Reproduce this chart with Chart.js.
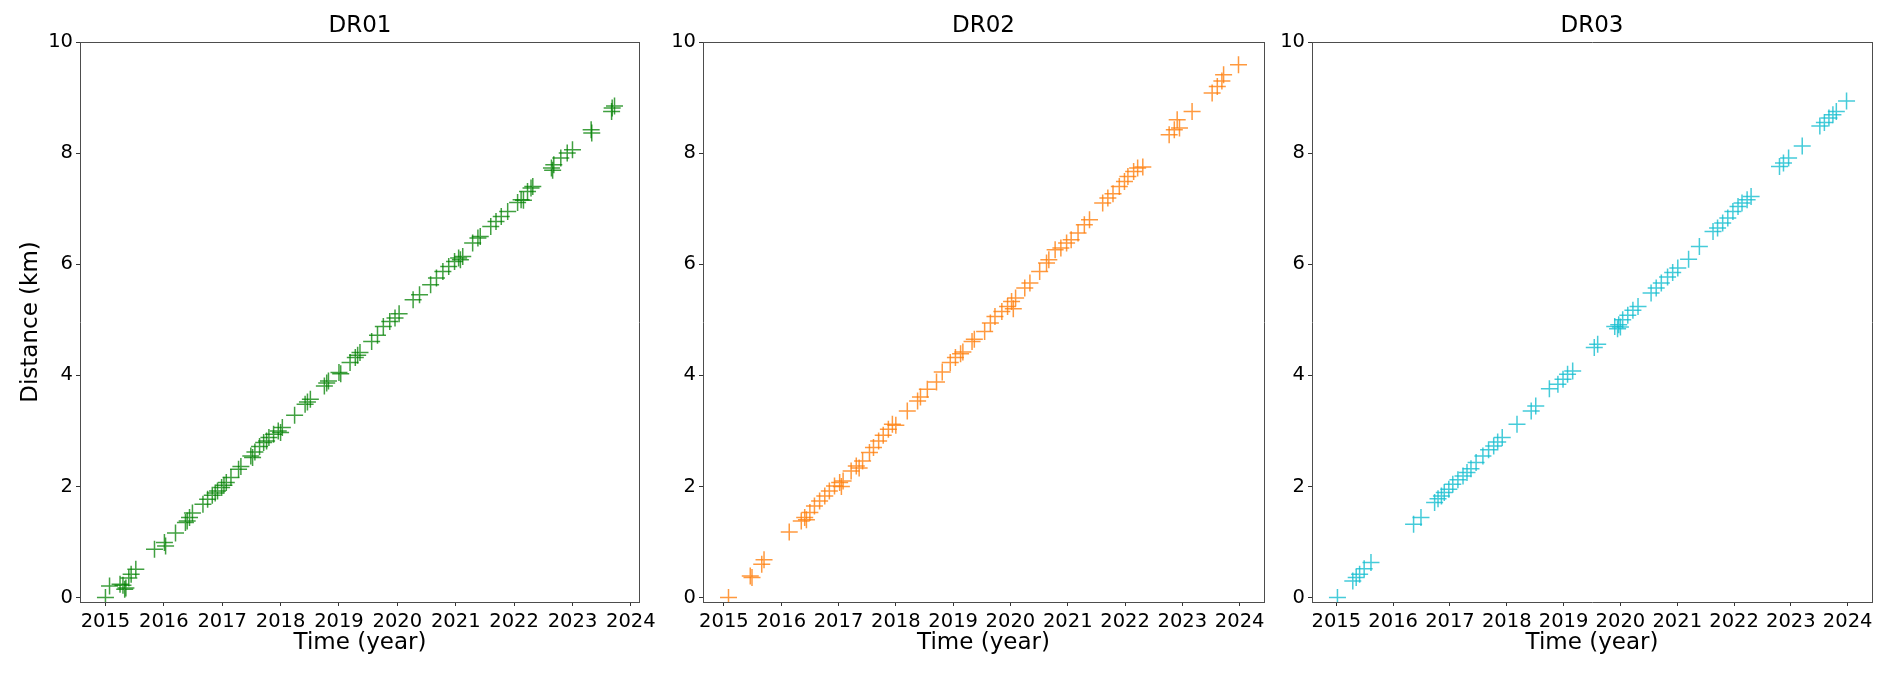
<!DOCTYPE html>
<html>
<head>
<meta charset="utf-8">
<script src="https://cdn.jsdelivr.net/npm/chart.js@4.4.1/dist/chart.umd.min.js"></script>
<style>
  html, body { margin:0; padding:0; background:#fff; }
  body { width:1892px; height:676px; position:relative; overflow:hidden; }
  canvas { position:absolute; top:0; }
</style>
</head>
<body>
<canvas id="dr01" width="660" height="676" style="left:0px"></canvas>
<canvas id="dr02" width="660" height="676" style="left:620px"></canvas>
<canvas id="dr03" width="652" height="676" style="left:1240px"></canvas>
<script>
// ---- data ----
const yearTicks = [2015, 2016, 2017, 2018, 2019, 2020, 2021, 2022, 2023, 2024];
const distTicks = [0, 2, 4, 6, 8, 10];

const dr01Years = [2015.00, 2015.07, 2015.25, 2015.30, 2015.33, 2015.35, 2015.40, 2015.44, 2015.52, 2015.84,
  2016.01, 2016.03, 2016.20, 2016.37, 2016.40, 2016.44, 2016.49, 2016.67, 2016.75, 2016.83,
  2016.88, 2016.92, 2016.99, 2017.03, 2017.07, 2017.15, 2017.28, 2017.32, 2017.49, 2017.52,
  2017.56, 2017.64, 2017.71, 2017.76, 2017.80, 2017.88, 2017.96, 2018.00, 2018.03, 2018.24,
  2018.42, 2018.46, 2018.51, 2018.75, 2018.79, 2018.82, 2019.00, 2019.03, 2019.19, 2019.28,
  2019.32, 2019.36, 2019.56, 2019.66, 2019.76, 2019.87, 2019.96, 2020.03, 2020.27, 2020.38,
  2020.57, 2020.67, 2020.78, 2020.88, 2020.98, 2021.05, 2021.08, 2021.12, 2021.29, 2021.38,
  2021.42, 2021.60, 2021.69, 2021.78, 2021.89, 2022.06, 2022.12, 2022.16, 2022.23, 2022.29,
  2022.32, 2022.64, 2022.66, 2022.68, 2022.80, 2022.91, 2023.00, 2023.32, 2023.33, 2023.67,
  2023.68, 2023.72];
const dr01Dist = [0.00, 0.21, 0.24, 0.22, 0.15, 0.17, 0.35, 0.42, 0.51, 0.87,
  0.99, 0.93, 1.16, 1.35, 1.38, 1.44, 1.52, 1.68, 1.77, 1.84,
  1.88, 1.92, 1.98, 2.02, 2.07, 2.16, 2.31, 2.36, 2.55, 2.52,
  2.62, 2.72, 2.79, 2.82, 2.88, 2.94, 3.00, 2.97, 3.06, 3.28,
  3.48, 3.52, 3.57, 3.81, 3.86, 3.90, 4.05, 4.03, 4.23, 4.32,
  4.36, 4.41, 4.61, 4.72, 4.88, 4.97, 5.03, 5.11, 5.36, 5.45,
  5.63, 5.75, 5.87, 5.96, 6.05, 6.11, 6.08, 6.14, 6.38, 6.47,
  6.50, 6.68, 6.77, 6.86, 6.95, 7.11, 7.16, 7.15, 7.31, 7.37,
  7.40, 7.73, 7.69, 7.79, 7.91, 8.00, 8.06, 8.42, 8.36, 8.75,
  8.81, 8.85];

const dr02Years = [2015.08, 2015.46, 2015.49, 2015.66, 2015.70, 2016.14, 2016.35, 2016.41, 2016.44, 2016.50,
  2016.58, 2016.67, 2016.76, 2016.84, 2016.93, 2017.02, 2017.05, 2017.08, 2017.22, 2017.31,
  2017.36, 2017.42, 2017.54, 2017.61, 2017.70, 2017.78, 2017.87, 2017.94, 2018.00, 2018.20,
  2018.38, 2018.43, 2018.55, 2018.71, 2018.81, 2018.95, 2019.04, 2019.13, 2019.17, 2019.33,
  2019.37, 2019.55, 2019.65, 2019.73, 2019.85, 2019.95, 2020.02, 2020.05, 2020.09, 2020.25,
  2020.34, 2020.51, 2020.63, 2020.67, 2020.78, 2020.88, 2020.98, 2021.06, 2021.18, 2021.29,
  2021.38, 2021.61, 2021.70, 2021.79, 2021.90, 2021.99, 2022.05, 2022.15, 2022.22, 2022.31,
  2022.77, 2022.86, 2022.91, 2022.95, 2023.17, 2023.52, 2023.61, 2023.69, 2023.72, 2023.98];
const dr02Dist = [0.00, 0.39, 0.36, 0.60, 0.68, 1.18, 1.38, 1.44, 1.40, 1.53,
  1.65, 1.74, 1.83, 1.92, 2.01, 2.07, 2.00, 2.10, 2.28, 2.37,
  2.33, 2.46, 2.61, 2.70, 2.82, 2.92, 3.03, 3.12, 3.10, 3.36,
  3.54, 3.61, 3.75, 3.88, 4.06, 4.23, 4.32, 4.39, 4.42, 4.61,
  4.65, 4.79, 4.94, 5.06, 5.15, 5.24, 5.33, 5.20, 5.39, 5.57,
  5.66, 5.87, 6.02, 6.08, 6.26, 6.29, 6.38, 6.44, 6.56, 6.71,
  6.80, 7.10, 7.19, 7.27, 7.40, 7.49, 7.58, 7.67, 7.73, 7.75,
  8.33, 8.42, 8.60, 8.45, 8.75, 9.08, 9.20, 9.30, 9.41, 9.59];

const dr03Years = [2015.02, 2015.29, 2015.35, 2015.41, 2015.49, 2015.61, 2016.36, 2016.49, 2016.73, 2016.79,
  2016.85, 2016.90, 2016.98, 2017.05, 2017.14, 2017.23, 2017.30, 2017.37, 2017.46, 2017.58,
  2017.68, 2017.77, 2017.84, 2017.92, 2018.18, 2018.43, 2018.51, 2018.75, 2018.90, 2018.99,
  2019.07, 2019.16, 2019.54, 2019.60, 2019.90, 2019.95, 2019.97, 2020.00, 2020.04, 2020.13,
  2020.22, 2020.31, 2020.54, 2020.63, 2020.72, 2020.83, 2020.92, 2021.01, 2021.20, 2021.39,
  2021.63, 2021.71, 2021.80, 2021.89, 2021.98, 2022.07, 2022.14, 2022.23, 2022.30, 2022.80,
  2022.87, 2022.96, 2023.20, 2023.51, 2023.59, 2023.67, 2023.74, 2023.80, 2023.98];
const dr03Dist = [0.00, 0.30, 0.36, 0.42, 0.52, 0.63, 1.32, 1.44, 1.71, 1.78,
  1.83, 1.89, 1.95, 2.04, 2.12, 2.19, 2.25, 2.32, 2.43, 2.55,
  2.66, 2.73, 2.80, 2.88, 3.12, 3.36, 3.45, 3.76, 3.84, 3.93,
  4.02, 4.08, 4.50, 4.56, 4.88, 4.84, 4.91, 4.87, 5.00, 5.08,
  5.17, 5.24, 5.48, 5.57, 5.66, 5.77, 5.85, 5.93, 6.09, 6.32,
  6.59, 6.65, 6.74, 6.83, 6.95, 7.04, 7.10, 7.16, 7.22, 7.76,
  7.82, 7.91, 8.13, 8.49, 8.55, 8.63, 8.69, 8.75, 8.94];

const yMin = -0.08, yMax = 10;

Chart.defaults.font.family = '"DejaVu Sans", sans-serif';
Chart.defaults.color = '#000';

// matplotlib-like 5% margins on x
function xLimits(years){
  const lo = Math.min(...years), hi = Math.max(...years), m = (hi - lo) * 0.05;
  return [lo - m, hi + m];
}

function makePanel(canvasId, title, years, dist, color, yAxisW, padRight, yLabel){
  const [xMin, xMax] = xLimits(years);
  const spine = { display:true, color:'#4d4d4d', width:1 };
  return new Chart(document.getElementById(canvasId), {
    type:'scatter',
    data:{ datasets:[{
      data: years.map((x, i) => ({ x, y: dist[i] })),
      pointStyle:'cross', pointRadius:8.5, pointHoverRadius:8.5,
      pointBorderWidth:1.5, pointBorderColor:color, borderColor:color, backgroundColor:color
    }]},
    options:{
      responsive:false, animation:false, events:[], devicePixelRatio:1,
      layout:{ padding:{ left:0, right:padRight, top:0, bottom:0 } },
      plugins:{ legend:{ display:false }, tooltip:{ enabled:false }, title:{ display:false } },
      scales:{
        x:{
          type:'linear', position:'bottom', min:xMin, max:xMax,
          afterBuildTicks:(s)=>{ s.ticks = yearTicks.map(v => ({ value:v })); },
          afterFit:(s)=>{ s.height = 74; },
          ticks:{ autoSkip:false, maxRotation:0, padding:4, font:{ size:19.5 }, callback:(v)=> String(v) },
          grid:{ drawOnChartArea:false, drawTicks:true, tickLength:4, color:'#333' },
          border:spine,
          title:{ display:true, text:'Time (year)', font:{ size:23 }, padding:{ top:0, bottom:19 } }
        },
        xTop:{
          type:'linear', position:'top',
          afterFit:(s)=>{ s.height = 42; },
          ticks:{ display:false },
          grid:{ drawOnChartArea:false, drawTicks:false },
          border:spine,
          title:{ display:true, text:title, font:{ size:23 }, padding:{ top:12, bottom:0 } }
        },
        y:{
          type:'linear', position:'left', min:yMin, max:yMax,
          afterBuildTicks:(s)=>{ s.ticks = distTicks.map(v => ({ value:v })); },
          afterFit:(s)=>{ s.width = yAxisW; },
          ticks:{ padding:3, font:{ size:19.5 } },
          grid:{ drawOnChartArea:false, drawTicks:true, tickLength:4, color:'#333' },
          border:spine,
          title:{ display:!!yLabel, text:yLabel || '', font:{ size:23 }, padding:{ top:17, bottom:0 } }
        },
        yRight:{
          type:'linear', position:'right',
          afterFit:(s)=>{ s.width = 0; },
          ticks:{ display:false },
          grid:{ drawOnChartArea:false, drawTicks:false },
          border:spine
        }
      }
    }
  });
}

makePanel('dr01', 'DR01', dr01Years, dr01Dist, 'rgba(0,128,0,0.75)', 80, 19, 'Distance (km)');
makePanel('dr02', 'DR02', dr02Years, dr02Dist, 'rgba(255,127,14,0.8)', 83, 16, null);
makePanel('dr03', 'DR03', dr03Years, dr03Dist, 'rgba(23,190,207,0.8)', 72, 20, null);
</script>
</body>
</html>
